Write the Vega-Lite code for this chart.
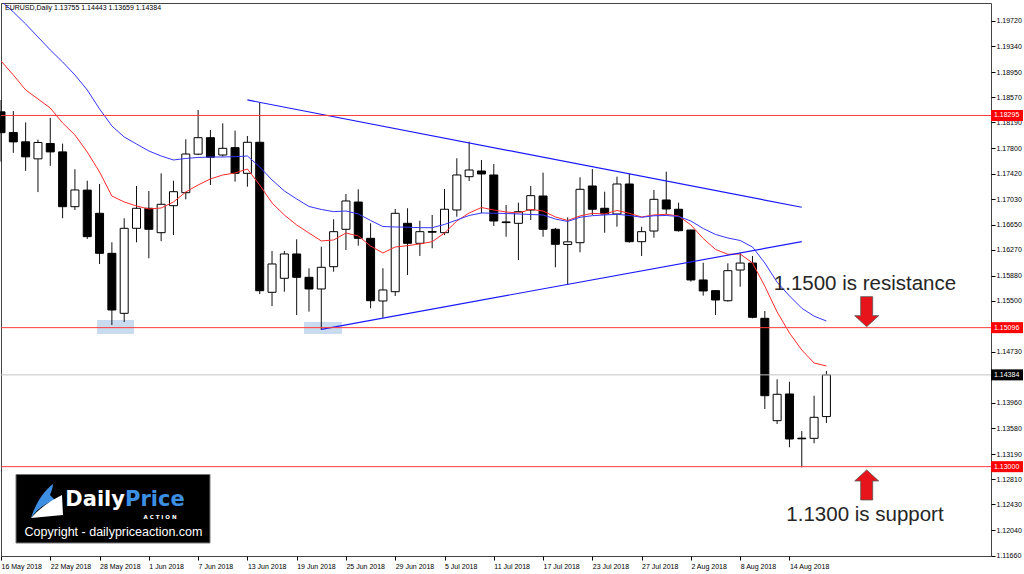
{
  "$schema": "https://vega.github.io/schema/vega-lite/v6.json",
  "width": 990,
  "height": 553,
  "autosize": {"type": "none"},
  "padding": {"left": 1, "top": 3, "right": 33, "bottom": 18},
  "background": "white",
  "config": {"view": {"stroke": "#444", "strokeWidth": 1}, "text": {"font": "Liberation Sans"}, "axis": {"labelOverlap": false}},
  "datasets": {
    "candles": [
      {"d":"2018-05-16","o":1.1835,"h":1.18529,"l":1.17598,"c":1.18036,"fast":1.19117,"slow":1.20022},
      {"d":"2018-05-17","o":1.18039,"h":1.18361,"l":1.17731,"c":1.17897,"fast":1.18906,"slow":1.19856},
      {"d":"2018-05-18","o":1.17898,"h":1.1819,"l":1.1746,"c":1.17671,"fast":1.1868,"slow":1.19675},
      {"d":"2018-05-21","o":1.17641,"h":1.1793,"l":1.1714,"c":1.17888,"fast":1.18544,"slow":1.19479},
      {"d":"2018-05-22","o":1.17873,"h":1.1826,"l":1.17535,"c":1.17746,"fast":1.18408,"slow":1.19283},
      {"d":"2018-05-23","o":1.17746,"h":1.1787,"l":1.16745,"c":1.1692,"fast":1.18182,"slow":1.19102},
      {"d":"2018-05-24","o":1.1692,"h":1.17484,"l":1.1687,"c":1.17172,"fast":1.18001,"slow":1.18906},
      {"d":"2018-05-25","o":1.1717,"h":1.17312,"l":1.16433,"c":1.16468,"fast":1.17745,"slow":1.1868},
      {"d":"2018-05-28","o":1.1682,"h":1.17262,"l":1.16056,"c":1.16217,"fast":1.17443,"slow":1.18393},
      {"d":"2018-05-29","o":1.16217,"h":1.16383,"l":1.15136,"c":1.15362,"fast":1.17081,"slow":1.18137},
      {"d":"2018-05-30","o":1.15312,"h":1.16745,"l":1.15181,"c":1.16594,"fast":1.16991,"slow":1.17971},
      {"d":"2018-05-31","o":1.16594,"h":1.17232,"l":1.16383,"c":1.16896,"fast":1.1693,"slow":1.17865},
      {"d":"2018-06-01","o":1.16896,"h":1.17157,"l":1.16142,"c":1.16579,"fast":1.16885,"slow":1.1776},
      {"d":"2018-06-04","o":1.16528,"h":1.17423,"l":1.164,"c":1.16956,"fast":1.169,"slow":1.17684},
      {"d":"2018-06-05","o":1.16935,"h":1.17312,"l":1.16493,"c":1.17146,"fast":1.16991,"slow":1.17624},
      {"d":"2018-06-06","o":1.17131,"h":1.17936,"l":1.17031,"c":1.17714,"fast":1.17142,"slow":1.17647},
      {"d":"2018-06-07","o":1.17712,"h":1.18378,"l":1.17697,"c":1.1796,"fast":1.17247,"slow":1.17662},
      {"d":"2018-06-08","o":1.1796,"h":1.18076,"l":1.17247,"c":1.17665,"fast":1.17338,"slow":1.17669},
      {"d":"2018-06-11","o":1.17699,"h":1.18177,"l":1.17674,"c":1.178,"fast":1.17398,"slow":1.17669},
      {"d":"2018-06-12","o":1.1781,"h":1.18066,"l":1.17297,"c":1.17423,"fast":1.17428,"slow":1.17674},
      {"d":"2018-06-13","o":1.17423,"h":1.17986,"l":1.17221,"c":1.17891,"fast":1.17488,"slow":1.17684},
      {"d":"2018-06-14","o":1.17891,"h":1.18488,"l":1.15603,"c":1.15653,"fast":1.17247,"slow":1.17519},
      {"d":"2018-06-15","o":1.15629,"h":1.16252,"l":1.15422,"c":1.16056,"fast":1.16976,"slow":1.17323},
      {"d":"2018-06-18","o":1.1584,"h":1.16252,"l":1.15638,"c":1.16207,"fast":1.16795,"slow":1.17157},
      {"d":"2018-06-19","o":1.16207,"h":1.16428,"l":1.15287,"c":1.15855,"fast":1.16644,"slow":1.17036},
      {"d":"2018-06-20","o":1.15855,"h":1.15991,"l":1.15337,"c":1.15679,"fast":1.16523,"slow":1.16923},
      {"d":"2018-06-21","o":1.15679,"h":1.16317,"l":1.15061,"c":1.16006,"fast":1.16403,"slow":1.16878},
      {"d":"2018-06-22","o":1.16015,"h":1.1673,"l":1.1594,"c":1.16543,"fast":1.16418,"slow":1.16845},
      {"d":"2018-06-25","o":1.16579,"h":1.17111,"l":1.16267,"c":1.17006,"fast":1.16523,"slow":1.16855},
      {"d":"2018-06-26","o":1.1699,"h":1.17182,"l":1.16332,"c":1.16443,"fast":1.16478,"slow":1.1681},
      {"d":"2018-06-27","o":1.16443,"h":1.16669,"l":1.15388,"c":1.15502,"fast":1.16327,"slow":1.16712},
      {"d":"2018-06-28","o":1.15498,"h":1.15991,"l":1.15246,"c":1.15664,"fast":1.16222,"slow":1.16621},
      {"d":"2018-06-29","o":1.15638,"h":1.16885,"l":1.15573,"c":1.1682,"fast":1.16312,"slow":1.16614},
      {"d":"2018-07-02","o":1.16669,"h":1.16896,"l":1.1589,"c":1.16368,"fast":1.16332,"slow":1.16611},
      {"d":"2018-07-03","o":1.16368,"h":1.16709,"l":1.16177,"c":1.16543,"fast":1.16358,"slow":1.16603},
      {"d":"2018-07-04","o":1.16545,"h":1.16795,"l":1.16293,"c":1.16535,"fast":1.16392,"slow":1.16603},
      {"d":"2018-07-05","o":1.16528,"h":1.17187,"l":1.16493,"c":1.16881,"fast":1.16523,"slow":1.16652},
      {"d":"2018-07-06","o":1.1687,"h":1.1765,"l":1.16769,"c":1.17398,"fast":1.16704,"slow":1.16719},
      {"d":"2018-07-09","o":1.17372,"h":1.179,"l":1.17307,"c":1.17473,"fast":1.16825,"slow":1.16787},
      {"d":"2018-07-10","o":1.17458,"h":1.17624,"l":1.1682,"c":1.17413,"fast":1.16908,"slow":1.16825},
      {"d":"2018-07-11","o":1.17398,"h":1.17564,"l":1.16629,"c":1.16704,"fast":1.1687,"slow":1.16822},
      {"d":"2018-07-12","o":1.1669,"h":1.16945,"l":1.16467,"c":1.1668,"fast":1.1684,"slow":1.16817},
      {"d":"2018-07-13","o":1.16669,"h":1.1698,"l":1.16116,"c":1.16844,"fast":1.16825,"slow":1.1681},
      {"d":"2018-07-16","o":1.1687,"h":1.17232,"l":1.16719,"c":1.17086,"fast":1.16878,"slow":1.16802},
      {"d":"2018-07-17","o":1.17081,"h":1.17433,"l":1.16467,"c":1.16579,"fast":1.16855,"slow":1.16795},
      {"d":"2018-07-18","o":1.16579,"h":1.166,"l":1.16006,"c":1.16353,"fast":1.16765,"slow":1.16734},
      {"d":"2018-07-19","o":1.1635,"h":1.1676,"l":1.15739,"c":1.1639,"fast":1.16712,"slow":1.16697},
      {"d":"2018-07-20","o":1.16377,"h":1.17363,"l":1.16232,"c":1.17182,"fast":1.1678,"slow":1.1676},
      {"d":"2018-07-23","o":1.17232,"h":1.17488,"l":1.16795,"c":1.16881,"fast":1.1682,"slow":1.16784},
      {"d":"2018-07-24","o":1.16896,"h":1.17146,"l":1.16528,"c":1.1681,"fast":1.1681,"slow":1.16795},
      {"d":"2018-07-25","o":1.1681,"h":1.17372,"l":1.16618,"c":1.17262,"fast":1.16863,"slow":1.16805},
      {"d":"2018-07-26","o":1.17262,"h":1.17413,"l":1.16377,"c":1.16392,"fast":1.1682,"slow":1.16787},
      {"d":"2018-07-27","o":1.16392,"h":1.16618,"l":1.16177,"c":1.16543,"fast":1.16765,"slow":1.1676},
      {"d":"2018-07-30","o":1.16553,"h":1.17172,"l":1.16452,"c":1.17031,"fast":1.16795,"slow":1.16783},
      {"d":"2018-07-31","o":1.17021,"h":1.17448,"l":1.16805,"c":1.16885,"fast":1.16805,"slow":1.16787},
      {"d":"2018-08-01","o":1.16881,"h":1.1698,"l":1.16543,"c":1.16558,"fast":1.1678,"slow":1.16772},
      {"d":"2018-08-02","o":1.16568,"h":1.1657,"l":1.1579,"c":1.15815,"fast":1.16644,"slow":1.16704},
      {"d":"2018-08-03","o":1.15815,"h":1.16075,"l":1.15578,"c":1.15649,"fast":1.1644,"slow":1.16591},
      {"d":"2018-08-06","o":1.15654,"h":1.1566,"l":1.15287,"c":1.15513,"fast":1.16275,"slow":1.16501},
      {"d":"2018-08-07","o":1.15502,"h":1.16066,"l":1.15487,"c":1.15955,"fast":1.16202,"slow":1.16448},
      {"d":"2018-08-08","o":1.15965,"h":1.16226,"l":1.15713,"c":1.1607,"fast":1.16207,"slow":1.1641},
      {"d":"2018-08-09","o":1.1607,"h":1.16177,"l":1.15237,"c":1.15252,"fast":1.16071,"slow":1.16312},
      {"d":"2018-08-10","o":1.15237,"h":1.15347,"l":1.13869,"c":1.1407,"fast":1.1572,"slow":1.16071},
      {"d":"2018-08-13","o":1.13693,"h":1.14317,"l":1.13643,"c":1.14091,"fast":1.15332,"slow":1.15781},
      {"d":"2018-08-14","o":1.14096,"h":1.14281,"l":1.13292,"c":1.13417,"fast":1.15016,"slow":1.15575},
      {"d":"2018-08-15","o":1.1343,"h":1.13537,"l":1.1299,"c":1.1342,"fast":1.14759,"slow":1.15389},
      {"d":"2018-08-16","o":1.13427,"h":1.1407,"l":1.13352,"c":1.13744,"fast":1.14563,"slow":1.15269},
      {"d":"2018-08-17","o":1.13755,"h":1.14443,"l":1.13659,"c":1.14384,"fast":1.14518,"slow":1.15196}
    ],
    "trend": [
      {"d":"2018-06-13","p":1.18529,"g":"upper"},
      {"d":"2018-08-15","p":1.16911,"g":"upper"},
      {"d":"2018-06-21","p":1.15071,"g":"lower"},
      {"d":"2018-08-15","p":1.16392,"g":"lower"}
    ],
    "levels": [
      {"level":1.18295,"kind":"line"},
      {"level":1.15096,"kind":"line"},
      {"level":1.13,"kind":"line"},
      {"level":1.14384,"kind":"price"}
    ]
  },
  "resolve": {"scale": {"x": "independent"}},
  "layer": [
    {
      "data": {"values": [{}]},
      "layer": [
        {"mark": {"type": "rect", "color": "#c9dbef"},
         "encoding": {"x": {"datum": 0.097, "type": "quantitative", "scale": {"domain": [0, 1], "nice": false, "zero": false}, "axis": null}, "x2": {"datum": 0.1343},
                      "y": {"datum": 1.15212, "type": "quantitative", "scale": {"domain": [1.11653, 1.19991], "zero": false, "nice": false},
                            "axis": {"orient": "right", "values": [1.1972,1.1934,1.1895,1.1857,1.1819,1.178,1.1742,1.1703,1.1665,1.1627,1.1588,1.155,1.1473,1.1396,1.1358,1.1319,1.1281,1.1243,1.1204,1.1166],
                                     "tickCount": 60, "format": ".5f", "title": null, "grid": false, "domain": false, "ticks": true, "tickSize": 4, "tickColor": "#000", "labelPadding": 1,
                                     "labelFont": "Liberation Sans", "labelFontSize": 7, "labelColor": "#000", "labelOverlap": false, "labelBound": false, "labelFlush": false}},
                      "y2": {"datum": 1.15}}},
        {"mark": {"type": "rect", "color": "#c9dbef"},
         "encoding": {"x": {"datum": 0.3061, "type": "quantitative", "scale": {"domain": [0, 1], "nice": false, "zero": false}, "axis": null}, "x2": {"datum": 0.3444},
                      "y": {"datum": 1.15182, "type": "quantitative", "scale": {"domain": [1.11653, 1.19991], "zero": false, "nice": false}}, "y2": {"datum": 1.15}}}
      ]
    },
    {
      "data": {"name": "candles"},
      "encoding": {
        "x": {"field": "d", "type": "ordinal",
              "scale": {"type": "point", "padding": 0.18, "align": 0,
                        "domain": ["2018-05-16","2018-05-17","2018-05-18","2018-05-21","2018-05-22","2018-05-23","2018-05-24","2018-05-25","2018-05-28","2018-05-29","2018-05-30","2018-05-31","2018-06-01","2018-06-04","2018-06-05","2018-06-06","2018-06-07","2018-06-08","2018-06-11","2018-06-12","2018-06-13","2018-06-14","2018-06-15","2018-06-18","2018-06-19","2018-06-20","2018-06-21","2018-06-22","2018-06-25","2018-06-26","2018-06-27","2018-06-28","2018-06-29","2018-07-02","2018-07-03","2018-07-04","2018-07-05","2018-07-06","2018-07-09","2018-07-10","2018-07-11","2018-07-12","2018-07-13","2018-07-16","2018-07-17","2018-07-18","2018-07-19","2018-07-20","2018-07-23","2018-07-24","2018-07-25","2018-07-26","2018-07-27","2018-07-30","2018-07-31","2018-08-01","2018-08-02","2018-08-03","2018-08-06","2018-08-07","2018-08-08","2018-08-09","2018-08-10","2018-08-13","2018-08-14","2018-08-15","2018-08-16","2018-08-17","2018-08-20","2018-08-21","2018-08-22","2018-08-23","2018-08-24","2018-08-27","2018-08-28","2018-08-29","2018-08-30","2018-08-31","2018-09-03","2018-09-04","2018-09-05"]},
              "axis": {"values": ["2018-05-16","2018-05-22","2018-05-28","2018-06-01","2018-06-07","2018-06-13","2018-06-19","2018-06-25","2018-06-29","2018-07-05","2018-07-11","2018-07-17","2018-07-23","2018-07-27","2018-08-02","2018-08-08","2018-08-14"],
                       "labelExpr": "utcFormat(toDate(datum.value), '%-d %b %Y')",
                       "labelAlign": "left", "labelAngle": 0, "labelPadding": 2, "tickSize": 4, "tickColor": "#000",
                       "labelFont": "Liberation Sans", "labelFontSize": 7, "labelColor": "#000", "domain": false, "grid": false, "title": null, "labelOverlap": false}}
      },
      "layer": [
        {"mark": {"type": "rule", "color": "#111", "strokeWidth": 1},
         "encoding": {"y": {"field": "l", "type": "quantitative", "scale": {"domain": [1.11653, 1.19991], "zero": false, "nice": false}},
                      "y2": {"field": "h"}}},
        {"mark": {"type": "bar", "width": 8, "stroke": "#000", "strokeWidth": 1},
         "encoding": {"y": {"field": "o", "type": "quantitative", "scale": {"domain": [1.11653, 1.19991], "zero": false, "nice": false}},
                      "y2": {"field": "c"},
                      "fill": {"condition": {"test": "datum.c < datum.o", "value": "#000"}, "value": "#fff"}}},
        {"mark": {"type": "line", "color": "#ff2b2b", "strokeWidth": 1, "clip": true},
         "encoding": {"y": {"field": "fast", "type": "quantitative", "scale": {"domain": [1.11653, 1.19991], "zero": false, "nice": false}}}},
        {"mark": {"type": "line", "color": "#3535ff", "strokeWidth": 1, "clip": true},
         "encoding": {"y": {"field": "slow", "type": "quantitative", "scale": {"domain": [1.11653, 1.19991], "zero": false, "nice": false}}}},
        {"data": {"name": "trend"},
         "mark": {"type": "line", "color": "#1a1aff", "strokeWidth": 1.2, "clip": true},
         "encoding": {"y": {"field": "p", "type": "quantitative", "scale": {"domain": [1.11653, 1.19991], "zero": false, "nice": false}},
                      "detail": {"field": "g"}}}
      ]
    },
    {
      "layer": [
        {"data": {"name": "levels"},
         "mark": {"type": "rule", "strokeWidth": 1},
         "encoding": {"y": {"field": "level", "type": "quantitative", "scale": {"domain": [1.11653, 1.19991], "zero": false, "nice": false}},
                      "color": {"condition": {"test": "datum.kind == 'price'", "value": "#c4c4c4"}, "value": "#ff3b3b"}}},
        {"data": {"name": "levels"},
         "mark": {"type": "point", "shape": "M0,-5.5H32V5.5H0Z", "size": 4, "filled": true, "opacity": 1, "strokeWidth": 0},
         "encoding": {"x": {"datum": 1, "type": "quantitative", "scale": {"domain": [0, 1], "nice": false, "zero": false}, "axis": null},
                      "y": {"field": "level", "type": "quantitative", "scale": {"domain": [1.11653, 1.19991], "zero": false, "nice": false}},
                      "color": {"condition": {"test": "datum.kind == 'price'", "value": "#000000"}, "value": "#ff0000"}}},
        {"data": {"name": "levels"},
         "mark": {"type": "text", "align": "left", "baseline": "middle", "dx": 3, "fontSize": 7, "color": "#ffffff"},
         "encoding": {"x": {"datum": 1, "type": "quantitative", "scale": {"domain": [0, 1], "nice": false, "zero": false}, "axis": null},
                      "y": {"field": "level", "type": "quantitative", "scale": {"domain": [1.11653, 1.19991], "zero": false, "nice": false}},
                      "text": {"field": "level", "type": "quantitative", "format": ".5f"}}},
        {"data": {"values": [{}]},
         "layer": [
           {"mark": {"type": "rect", "fill": "#000", "stroke": "#777", "strokeWidth": 1},
            "encoding": {"x": {"datum": 0.01515, "type": "quantitative", "scale": {"domain": [0, 1], "nice": false, "zero": false}, "axis": null}, "x2": {"datum": 0.21111},
                         "y": {"datum": 1.12882, "type": "quantitative", "scale": {"domain": [1.11653, 1.19991], "zero": false, "nice": false}}, "y2": {"datum": 1.11849}}},
           {"mark": {"type": "point", "shape": "M7,-16C-1,-10 -10,2 -15,18C-8,8 0,3 9,0L4,-5C6,-10 7,-13 7,-16Z", "size": 4, "filled": true, "opacity": 1, "color": "#3d8fe3", "strokeWidth": 0},
            "encoding": {"x": {"datum": 0.04545, "type": "quantitative", "scale": {"domain": [0, 1], "nice": false, "zero": false}, "axis": null},
                         "y": {"datum": 1.12498, "type": "quantitative", "scale": {"domain": [1.11653, 1.19991], "zero": false, "nice": false}}}},
           {"mark": {"type": "point", "shape": "M-15,18C-4,6 6,0 16,-5L17,15Z", "size": 4, "filled": true, "opacity": 1, "color": "#ffffff", "strokeWidth": 0},
            "encoding": {"x": {"datum": 0.04545, "type": "quantitative", "scale": {"domain": [0, 1], "nice": false, "zero": false}, "axis": null},
                         "y": {"datum": 1.12498, "type": "quantitative", "scale": {"domain": [1.11653, 1.19991], "zero": false, "nice": false}}}},
           {"mark": {"type": "text", "text": "Daily", "align": "right", "baseline": "alphabetic", "font": "DejaVu Sans", "fontWeight": "bold", "fontSize": 21, "color": "#ffffff"},
            "encoding": {"x": {"datum": 0.12525, "type": "quantitative", "scale": {"domain": [0, 1], "nice": false, "zero": false}, "axis": null},
                         "y": {"datum": 1.12405, "type": "quantitative", "scale": {"domain": [1.11653, 1.19991], "zero": false, "nice": false}}}},
           {"mark": {"type": "text", "text": "Price", "align": "left", "baseline": "alphabetic", "font": "DejaVu Sans", "fontWeight": "bold", "fontSize": 21, "color": "#3d8fe3"},
            "encoding": {"x": {"datum": 0.12525, "type": "quantitative", "scale": {"domain": [0, 1], "nice": false, "zero": false}, "axis": null},
                         "y": {"datum": 1.12405, "type": "quantitative", "scale": {"domain": [1.11653, 1.19991], "zero": false, "nice": false}}}},
           {"mark": {"type": "text", "text": "A   C   T   I   O   N", "align": "center", "baseline": "middle", "font": "DejaVu Sans", "fontWeight": "bold", "fontSize": 5.5, "color": "#ffffff"},
            "encoding": {"x": {"datum": 0.16061, "type": "quantitative", "scale": {"domain": [0, 1], "nice": false, "zero": false}, "axis": null},
                         "y": {"datum": 1.12245, "type": "quantitative", "scale": {"domain": [1.11653, 1.19991], "zero": false, "nice": false}}}},
           {"mark": {"type": "text", "text": "Copyright - dailypriceaction.com", "align": "center", "baseline": "alphabetic", "font": "Liberation Sans", "fontSize": 12.5, "color": "#ffffff"},
            "encoding": {"x": {"datum": 0.11364, "type": "quantitative", "scale": {"domain": [0, 1], "nice": false, "zero": false}, "axis": null},
                         "y": {"datum": 1.11955, "type": "quantitative", "scale": {"domain": [1.11653, 1.19991], "zero": false, "nice": false}}}},
           {"mark": {"type": "text", "text": "1.1500 is resistance", "align": "center", "baseline": "alphabetic", "font": "Liberation Sans", "fontSize": 20.5, "color": "#262626"},
            "encoding": {"x": {"datum": 0.8727, "type": "quantitative", "scale": {"domain": [0, 1], "nice": false, "zero": false}, "axis": null},
                         "y": {"datum": 1.15664, "type": "quantitative", "scale": {"domain": [1.11653, 1.19991], "zero": false, "nice": false}}}},
           {"mark": {"type": "text", "text": "1.1300 is support", "align": "center", "baseline": "alphabetic", "font": "Liberation Sans", "fontSize": 20.5, "color": "#262626"},
            "encoding": {"x": {"datum": 0.8727, "type": "quantitative", "scale": {"domain": [0, 1], "nice": false, "zero": false}, "axis": null},
                         "y": {"datum": 1.12181, "type": "quantitative", "scale": {"domain": [1.11653, 1.19991], "zero": false, "nice": false}}}},
           {"mark": {"type": "point", "shape": "M-6,-15H6V4H12L0,15L-12,4H-6Z", "size": 4, "filled": true, "opacity": 1, "color": "#e8141b", "stroke": "#555", "strokeWidth": 0.8},
            "encoding": {"x": {"datum": 0.87444, "type": "quantitative", "scale": {"domain": [0, 1], "nice": false, "zero": false}, "axis": null},
                         "y": {"datum": 1.15337, "type": "quantitative", "scale": {"domain": [1.11653, 1.19991], "zero": false, "nice": false}}}},
           {"mark": {"type": "point", "shape": "M-6,15H6V-4H12L0,-15L-12,-4H-6Z", "size": 4, "filled": true, "opacity": 1, "color": "#e8141b", "stroke": "#555", "strokeWidth": 0.8},
            "encoding": {"x": {"datum": 0.87444, "type": "quantitative", "scale": {"domain": [0, 1], "nice": false, "zero": false}, "axis": null},
                         "y": {"datum": 1.12724, "type": "quantitative", "scale": {"domain": [1.11653, 1.19991], "zero": false, "nice": false}}}},
           {"mark": {"type": "text", "text": "EURUSD,Daily  1.13755 1.14443 1.13659 1.14384", "align": "left", "baseline": "alphabetic", "font": "Liberation Sans", "fontSize": 7, "color": "#000"},
            "encoding": {"x": {"datum": 0.00404, "type": "quantitative", "scale": {"domain": [0, 1], "nice": false, "zero": false}, "axis": null},
                         "y": {"datum": 1.19886, "type": "quantitative", "scale": {"domain": [1.11653, 1.19991], "zero": false, "nice": false}}}}
         ]}
      ]
    }
  ]
}
